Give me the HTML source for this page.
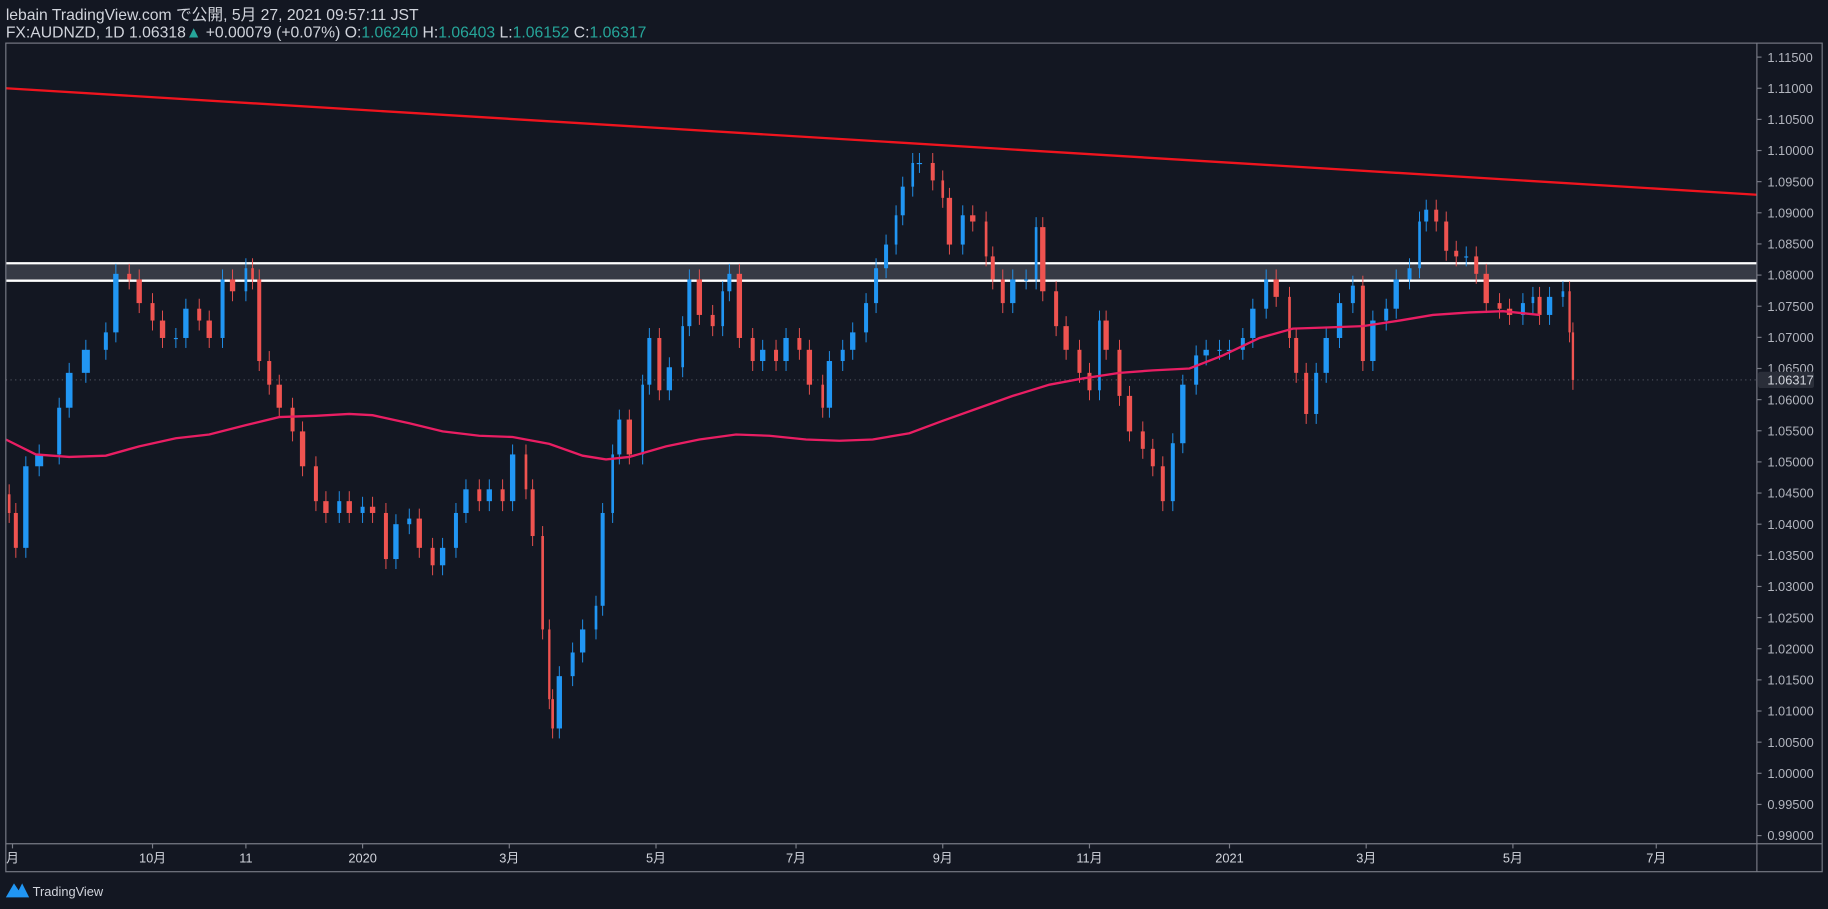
<!DOCTYPE html>
<html><head><meta charset="utf-8">
<style>
html,body{margin:0;padding:0;background:#131722;overflow:hidden}
svg{display:block}
text{font-family:"Liberation Sans","Noto Sans CJK JP",sans-serif}
</style></head>
<body>
<svg id="chart" width="1828" height="909" viewBox="0 0 1568 780" preserveAspectRatio="none" xmlns="http://www.w3.org/2000/svg">
<rect x="0" y="0" width="1568" height="780" fill="#131722"/>
<text x="5" y="17" fill="#d1d4dc" font-size="13.5">lebain TradingView.com で公開, 5月 27, 2021 09:57:11 JST</text>
<text x="5" y="32" fill="#d1d4dc" font-size="13.5">FX:AUDNZD, 1D 1.06318<tspan fill="#26a69a">▲</tspan> +0.00079 (+0.07%) O:<tspan fill="#26a69a">1.06240</tspan> H:<tspan fill="#26a69a">1.06403</tspan> L:<tspan fill="#26a69a">1.06152</tspan> C:<tspan fill="#26a69a">1.06317</tspan></text>
<g id="plot"></g>
<rect x="5" y="37" width="1558" height="711" fill="none" stroke="#787b86" stroke-width="1"/>
<line x1="1507" y1="37" x2="1507" y2="748" stroke="#787b86"/>
<line x1="5" y1="724" x2="1563" y2="724" stroke="#787b86"/>
<g id="yaxis"></g>
<g id="xaxis"></g>
<g>
<path d="M5 770 L12 758 L16 764 L19 758 L25 770 Z" fill="#2196f3"/>
<text x="28" y="769" fill="#d1d4dc" font-size="11">TradingView</text>
</g>
</svg>
<script>
const days=[1,3,6,10,16,19,24,30,33,37,40,44,47,51,54,58,61,65,68,72,74,76,79,82,86,89,93,96,100,103,107,110,114,117,121,124,128,131,135,138,142,145,149,152,156,158,161,163,164,166,170,173,177,179,182,184,187,191,193,196,199,203,205,208,212,215,217,220,224,227,231,234,238,241,245,247,251,254,258,261,264,267,269,272,274,278,281,283,287,290,294,296,299,302,306,309,311,315,318,322,325,328,330,334,337,341,344,347,350,353,357,360,364,367,371,374,378,381,385,387,390,393,396,400,404,407,410,414,417,421,424,426,429,432,435,438,441,444,448,451,455,458,460,463,467,469,470];
const closes=[1.0418,1.0362,1.0493,1.0512,1.0587,1.0643,1.0680,1.0708,1.0802,1.0793,1.0755,1.0727,1.0699,1.0699,1.0746,1.0727,1.0699,1.0793,1.0774,1.0811,1.0793,1.0662,1.0624,1.0587,1.0549,1.0493,1.0437,1.0418,1.0437,1.0418,1.0428,1.0418,1.0344,1.0400,1.0409,1.0362,1.0334,1.0362,1.0418,1.0456,1.0437,1.0456,1.0437,1.0512,1.0456,1.0381,1.0231,1.0119,1.0072,1.0156,1.0194,1.0231,1.0269,1.0418,1.0512,1.0568,1.0512,1.0624,1.0699,1.0615,1.0652,1.0718,1.0793,1.0736,1.0718,1.0774,1.0802,1.0699,1.0662,1.0680,1.0662,1.0699,1.0680,1.0624,1.0587,1.0662,1.0680,1.0708,1.0755,1.0811,1.0849,1.0896,1.0942,1.0980,1.0980,1.0952,1.0924,1.0849,1.0896,1.0886,1.0830,1.0793,1.0755,1.0793,1.0793,1.0877,1.0774,1.0718,1.0680,1.0643,1.0615,1.0727,1.0680,1.0606,1.0549,1.0521,1.0493,1.0437,1.0530,1.0624,1.0671,1.0680,1.0680,1.0680,1.0699,1.0746,1.0793,1.0765,1.0699,1.0643,1.0577,1.0643,1.0699,1.0755,1.0783,1.0662,1.0727,1.0746,1.0793,1.0811,1.0886,1.0905,1.0886,1.0839,1.0830,1.0830,1.0802,1.0755,1.0746,1.0736,1.0755,1.0765,1.0736,1.0765,1.0774,1.0708,1.06317];
const maDays=[0,9,19,30,40,51,61,72,82,93,103,110,121,131,142,152,163,173,180,187,198,208,219,229,240,250,260,271,281,292,302,313,323,334,344,355,365,376,386,397,407,418,428,439,449,460,470];
const maValues=[1.0536,1.0512,1.0508,1.0510,1.0525,1.0538,1.0544,1.0559,1.0572,1.0574,1.0577,1.0575,1.0562,1.0549,1.0542,1.0540,1.0529,1.0510,1.0504,1.0508,1.0525,1.0536,1.0544,1.0542,1.0536,1.0534,1.0536,1.0546,1.0566,1.0587,1.0606,1.0624,1.0634,1.0643,1.0647,1.0650,1.0671,1.0699,1.0714,1.0716,1.0718,1.0727,1.0736,1.0740,1.0742,1.0736];
const yTicks=[1.115,1.11,1.105,1.10,1.095,1.09,1.085,1.08,1.075,1.07,1.065,1.06,1.055,1.05,1.045,1.04,1.035,1.03,1.025,1.02,1.015,1.01,1.005,1.00,0.995,0.99];
const xTickDays=[2,44,72,107,151,195,237,281,325,367,408,452,495];
const xTickLabels=["月","10月","11","2020","3月","5月","7月","9月","11月","2021","3月","5月","7月"];
const trendPrices=[1.1100,1.0929];
const zonePrices=[1.0819,1.0791];
const lastPrice=1.06317;

const X=d=>5+d*2.86;
const Y=p=>49+(1.115-p)/0.005*26.72;
const NS="http://www.w3.org/2000/svg";
function mk(tag,attrs,parent){const e=document.createElementNS(NS,tag);for(const k in attrs)e.setAttribute(k,attrs[k]);parent.appendChild(e);return e;}
const plot=document.getElementById('plot');
const z=mk('rect',{x:5,y:Y(zonePrices[0]),width:1502,height:Y(zonePrices[1])-Y(zonePrices[0]),fill:'#363a45'},plot);


zonePrices.forEach(p=>{const l=mk('line',{x1:5,x2:1507,y1:Y(p),y2:Y(p),stroke:'#ffffff','stroke-width':2},plot);

});
const t=mk('line',{x1:5,x2:1507,y1:Y(trendPrices[0]),y2:Y(trendPrices[1]),stroke:'#f0141e','stroke-width':2},plot);


const lp=mk('line',{x1:5,x2:1507,y1:Y(lastPrice),y2:Y(lastPrice),stroke:'#4a4e59','stroke-dasharray':'1 3'},plot);


for(let i=0;i<days.length;i++){
  const o=i?closes[i-1]:closes[i]+0.003,c=closes[i];
  const up=c>=o,col=up?'#2196f3':'#ef5350';
  const gap=i<days.length-1?days[i+1]-days[i]:1.5;
  const w=Math.max(2,gap*2.86*0.4);
  const hi=Math.max(o,c)+0.0016,lo=Math.min(o,c)-0.0016;
  const g=mk('g',{},plot);
  
  
  const xc=X(days[i]);
  mk('line',{x1:xc,x2:xc,y1:Y(hi),y2:Y(lo),stroke:col,'stroke-width':0.8},g);
  mk('rect',{x:xc-w/2,y:Y(Math.max(o,c)),width:w,height:Math.max(1,Math.abs(Y(o)-Y(c))),fill:col},g);
}
let d='';maDays.forEach((dd,i)=>{d+=(i?'L':'M')+X(dd)+' '+Y(maValues[i]);});
const ma=mk('path',{d:d,fill:'none',stroke:'#e91e63','stroke-width':2},plot);


const ya=document.getElementById('yaxis');
yTicks.forEach(p=>{
  mk('line',{x1:1507,x2:1511,y1:Y(p),y2:Y(p),stroke:'#787b86'},ya);
  const tx=mk('text',{x:1516,y:Y(p)+4,fill:'#b2b5be','font-size':11},ya);
  tx.textContent=p.toFixed(5);
  
  
});
const lb=mk('rect',{x:1508,y:Y(lastPrice)-7,width:48,height:14,fill:'#2a2e39',rx:2},ya);


const lt=mk('text',{x:1516,y:Y(lastPrice)+4,fill:'#d1d4dc','font-size':11},ya);
lt.textContent=lastPrice.toFixed(5);


const xa=document.getElementById('xaxis');
xTickDays.forEach((dd,i)=>{
  mk('line',{x1:X(dd),x2:X(dd),y1:724,y2:728,stroke:'#787b86'},xa);
  const tx=mk('text',{x:X(dd),y:740,fill:'#d1d4dc','font-size':11,'text-anchor':'middle'},xa);
  tx.textContent=xTickLabels[i];
  
  
});
</script>
</body></html>
